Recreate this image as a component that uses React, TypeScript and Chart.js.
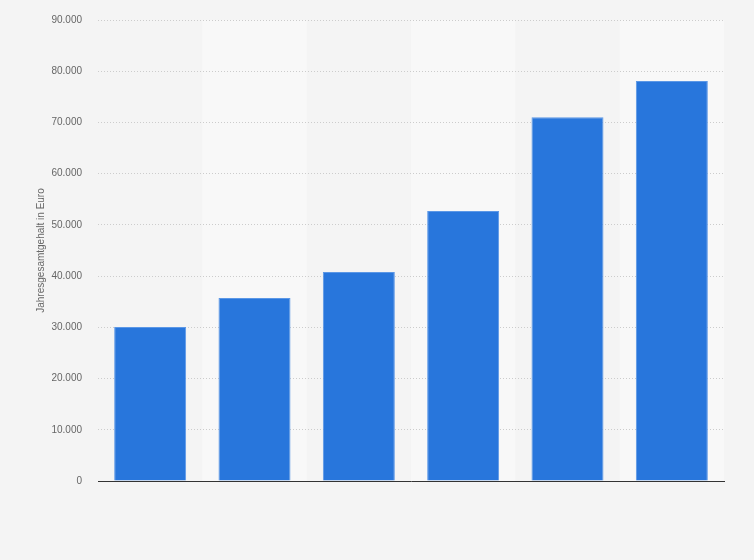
import { useEffect, useRef } from "react";
import { Chart, registerables } from "chart.js";
Chart.register(...registerables);

const categories = ["Stufe 1", "Stufe 2", "Stufe 3", "Stufe 4", "Stufe 5", "Stufe 6"];
const salaries = [30050, 35750, 40800, 52700, 71000, 78100];
const yTicks = [0, 10000, 20000, 30000, 40000, 50000, 60000, 70000, 80000, 90000];
const yTitle = "Jahresgesamtgehalt in Euro";

const formatDe = (v: number) => String(v).replace(/\B(?=(\d{3})+(?!\d))/g, ".");

// lighter background for every second category column
const bandPlugin = {
  id: "bands",
  beforeDraw: (chart: any) => {
    const { ctx, chartArea, scales } = chart;
    const step = chartArea.width / categories.length;
    ctx.save();
    ctx.fillStyle = "#f8f8f8";
    categories.forEach((_, i) => {
      if (i % 2 === 1) {
        const cx = scales.x.getPixelForValue(i);
        ctx.fillRect(cx - step / 2, chartArea.top, step, chartArea.height);
      }
    });
    ctx.restore();
  },
};

const App = () => {
  const canvasRef = useRef<HTMLCanvasElement>(null);

  useEffect(() => {
    document.body.style.margin = "0";
    const chart = new Chart(canvasRef.current!, {
      type: "bar",
      data: {
        labels: categories,
        datasets: [
          {
            data: salaries,
            backgroundColor: "#2876dc",
            borderColor: "#5b97e6",
            borderWidth: 1,
            barPercentage: 0.69,
            categoryPercentage: 1,
          },
        ],
      },
      plugins: [bandPlugin],
      options: {
        responsive: true,
        maintainAspectRatio: false,
        animation: false,
        layout: { padding: { top: 16, right: 30, bottom: 71, left: 0 } },
        plugins: {
          legend: { display: false },
          tooltip: { enabled: false },
        },
        scales: {
          x: {
            grid: { display: false },
            ticks: { display: false },
            border: { display: true, color: "#333333", width: 1 },
          },
          y: {
            min: 0,
            max: 90000,
            afterBuildTicks: (s: any) => {
              s.ticks = yTicks.map((v) => ({ value: v }));
            },
            afterFit: (s: any) => {
              s.width = 98;
            },
            grid: {
              color: "#cccccc",
              lineWidth: 1,
              drawTicks: false,
            },
            border: { display: false, dash: [1, 2] },
            ticks: {
              padding: 16,
              color: "#666666",
              font: { family: "'Liberation Sans', Arial, sans-serif", size: 10 },
              callback: (v: any) => formatDe(Number(v)),
            },
            title: {
              display: true,
              text: yTitle,
              color: "#666666",
              font: { family: "'Liberation Sans', Arial, sans-serif", size: 10 },
              padding: { top: 35, bottom: 0 },
            },
          },
        },
      },
    });
    return () => chart.destroy();
  }, []);

  return (
    <div
      style={{
        width: 754,
        height: 560,
        background: "#f4f4f4",
        position: "relative",
        overflow: "hidden",
      }}
    >
      <div style={{ position: "absolute", left: 0, top: -2, width: 754, height: 562 }}>
        <canvas ref={canvasRef} />
      </div>
    </div>
  );
};

export default App;
